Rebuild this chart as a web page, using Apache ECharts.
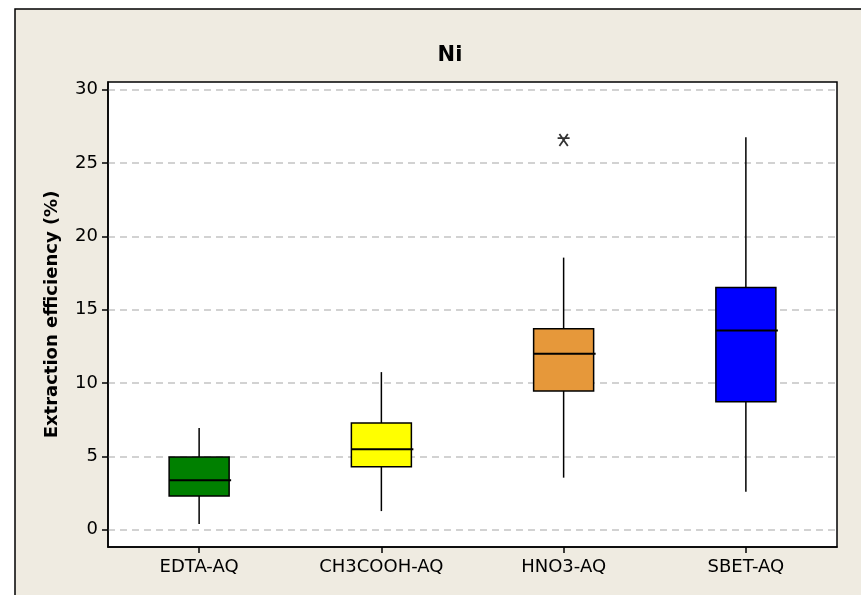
<!DOCTYPE html>
<html>
<head>
<meta charset="utf-8">
<script src="https://cdn.jsdelivr.net/npm/echarts@6/dist/echarts.min.js"></script>
<style>
html,body{margin:0;padding:0;background:#ffffff;}
#chart{width:861px;height:595px;}
</style>
</head>
<body>
<div id="chart"></div>
<script>
const categories = ['EDTA-AQ', 'CH3COOH-AQ', 'HNO3-AQ', 'SBET-AQ'];
const lowWhisker = [0.38, 1.26, 3.54, 2.58];
const q1 = [2.29, 4.29, 9.46, 8.71];
const median = [3.36, 5.48, 11.99, 13.58];
const q3 = [4.95, 7.27, 13.70, 16.52];
const highWhisker = [6.93, 10.74, 18.55, 26.76];
const outliers = [[2, 26.58]];
const boxColors = ['#008000', '#FFFF00', '#E6983A', '#0000FF'];
const yTicks = [0, 5, 10, 15, 20, 25, 30];

const FONT = 'Tahoma, "DejaVu Sans", sans-serif';
const boxData = categories.map((c, i) => [i, lowWhisker[i], q1[i], median[i], q3[i], highWhisker[i]]);

const chart = echarts.init(document.getElementById('chart'), null, {renderer: 'canvas'});
chart.setOption({
  animation: false,
  backgroundColor: '#ffffff',
  textStyle: {fontFamily: FONT},
  graphic: [{
    type: 'rect', z: -100, silent: true,
    shape: {x: 15, y: 9, width: 870, height: 600},
    style: {fill: '#EFEBE1', stroke: '#000000', lineWidth: 1.5}
  }],
  title: {
    text: 'Ni', left: 445, top: 40, textAlign: 'center',
    textStyle: {fontFamily: FONT, fontWeight: 'bold', fontSize: 21, color: '#000'}
  },
  grid: {
    left: 108, right: 24, top: 82, bottom: 48,
    show: true, backgroundColor: '#ffffff', borderColor: '#000000', borderWidth: 1.5
  },
  xAxis: {
    type: 'category', data: categories, boundaryGap: true,
    axisLine: {show: true, onZero: false, lineStyle: {color: '#000', width: 1.5}},
    axisTick: {show: true, alignWithLabel: true, length: 6, lineStyle: {color: '#000', width: 1.5}},
    axisLabel: {color: '#000', fontSize: 18, margin: 11, fontFamily: FONT},
    splitLine: {show: false}
  },
  yAxis: {
    type: 'value', min: -1.19, max: 30.53,
    name: 'Extraction efficiency (%)', nameLocation: 'middle', nameGap: 47, nameRotate: 90,
    nameTextStyle: {fontFamily: FONT, fontWeight: 'bold', fontSize: 18, color: '#000'},
    axisLine: {show: true, onZero: false, lineStyle: {color: '#000', width: 1.5}},
    axisTick: {show: true, length: 6, customValues: yTicks, lineStyle: {color: '#000', width: 1.5}},
    axisLabel: {color: '#000', fontSize: 18, margin: 10, customValues: yTicks, fontFamily: FONT},
    splitLine: {show: true, lineStyle: {color: '#C4C4C4', width: 1.5, type: [7, 5]}}
  },
  series: [{
    type: 'custom', z: 5,
    data: boxData,
    encode: {x: 0, y: [1, 2, 3, 4, 5]},
    renderItem: function (params, api) {
      const idx = api.value(0);
      const half = 30;
      const pLow = api.coord([idx, api.value(1)]);
      const pQ1 = api.coord([idx, api.value(2)]);
      const pMed = api.coord([idx, api.value(3)]);
      const pQ3 = api.coord([idx, api.value(4)]);
      const pHigh = api.coord([idx, api.value(5)]);
      const x = pQ1[0];
      const lineStyle = {stroke: '#000', lineWidth: 1.5};
      return {
        type: 'group',
        children: [
          {type: 'line', shape: {x1: x, y1: pHigh[1], x2: x, y2: pQ3[1]}, style: lineStyle},
          {type: 'line', shape: {x1: x, y1: pQ1[1], x2: x, y2: pLow[1]}, style: lineStyle},
          {type: 'rect', shape: {x: x - half, y: pQ3[1], width: 2 * half, height: pQ1[1] - pQ3[1]},
            style: {fill: boxColors[idx], stroke: '#000', lineWidth: 1.5}},
          {type: 'line', shape: {x1: x - half, y1: pMed[1], x2: x + half + 2, y2: pMed[1]}, style: {stroke: '#000', lineWidth: 2}}
        ]
      };
    }
  }, {
    type: 'scatter', z: 6,
    data: outliers,
    symbol: 'path://M-1,-0.3L1,-0.3M-0.7,-1L0.7,1M-0.7,1L0.7,-1',
    symbolSize: [12, 12],
    itemStyle: {color: 'none', borderColor: '#000', borderWidth: 1.8}
  }]
});
</script>
</body>
</html>
